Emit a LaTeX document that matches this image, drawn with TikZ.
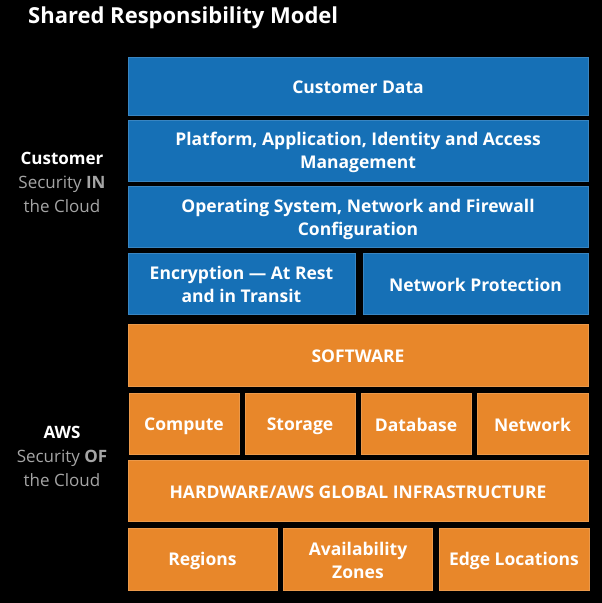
\documentclass[tikz,border=0pt]{standalone}
\usepackage{fontspec}
\setmainfont{Open Sans}
\definecolor{awsblue}{RGB}{22,112,182}
\definecolor{awsorange}{RGB}{232,135,42}
\definecolor{labelgray}{RGB}{165,165,165}
\newcommand{\bst}{\rule[-2.5pt]{0pt}{20pt}}
\tikzset{
  box/.style={rectangle, inner sep=2pt, align=center, text=white,
    font=\fontsize{17.5}{23}\selectfont\bfseries},
  bluebox/.style={box, fill=awsblue, draw=awsblue!85!white, line width=0.6pt},
  orangebox/.style={box, fill=awsorange, draw=awsorange!85!white, line width=0.6pt},
  sidelabel/.style={align=center, text=labelgray, font=\fontsize{17}{24}\selectfont},
}
\begin{document}
\begin{tikzpicture}[x=1pt,y=-1pt]
\fill[black] (0,0) rectangle (602,603);
\useasboundingbox (0,0) rectangle (602,603);
\node[anchor=base west, text=white, inner sep=0pt, font=\fontsize{22}{26}\selectfont\bfseries] (title) at (28,23) {Shared Responsibility Model};
% Customer (blue)
\node[bluebox, minimum width=460, minimum height=58] (data) at (358,86) {\bst Customer Data};
\node[bluebox, minimum width=460, minimum height=61] (platform) at (358,150.5) {\bst Platform, Application, Identity and Access\\\bst Management};
\node[bluebox, minimum width=460, minimum height=61] (os) at (358,217) {\bst Operating System, Network and Firewall\\\bst Configuration};
\node[bluebox, minimum width=227, minimum height=61] (enc) at (241.5,283.5) {\bst Encryption --- At Rest\\\bst and in Transit};
\node[bluebox, minimum width=225, minimum height=61] (netprot) at (475.5,283.5) {\bst Network Protection};
% AWS (orange)
\node[orangebox, minimum width=460, minimum height=62] (software) at (358,355) {\bst SOFTWARE};
\node[orangebox, minimum width=110, minimum height=61] (compute) at (184,423.5) {\bst Compute};
\node[orangebox, minimum width=110, minimum height=61] (storage) at (300,423.5) {\bst Storage};
\node[orangebox, minimum width=110, minimum height=61] (database) at (416,423.5) {\bst Database};
\node[orangebox, minimum width=111, minimum height=61] (network) at (532.5,423.5) {\bst Network};
\node[orangebox, minimum width=460, minimum height=61] (hardware) at (358,490.5) {\bst HARDWARE/AWS GLOBAL INFRASTRUCTURE};
\node[orangebox, minimum width=149, minimum height=62] (regions) at (202.5,559) {\bst Regions};
\node[orangebox, minimum width=149, minimum height=62] (az) at (358,559) {\bst Availability\\\bst Zones};
\node[orangebox, minimum width=150, minimum height=62] (edge) at (514,559) {\bst Edge Locations};
% side labels
\node[sidelabel] (custlabel) at (62,182.5) {\textcolor{white}{\bfseries Customer}\\Security \textbf{IN}\\the Cloud};
\node[sidelabel] (awslabel) at (62,456) {\textcolor{white}{\bfseries AWS}\\Security \textbf{OF}\\the Cloud};
\end{tikzpicture}
\end{document}
